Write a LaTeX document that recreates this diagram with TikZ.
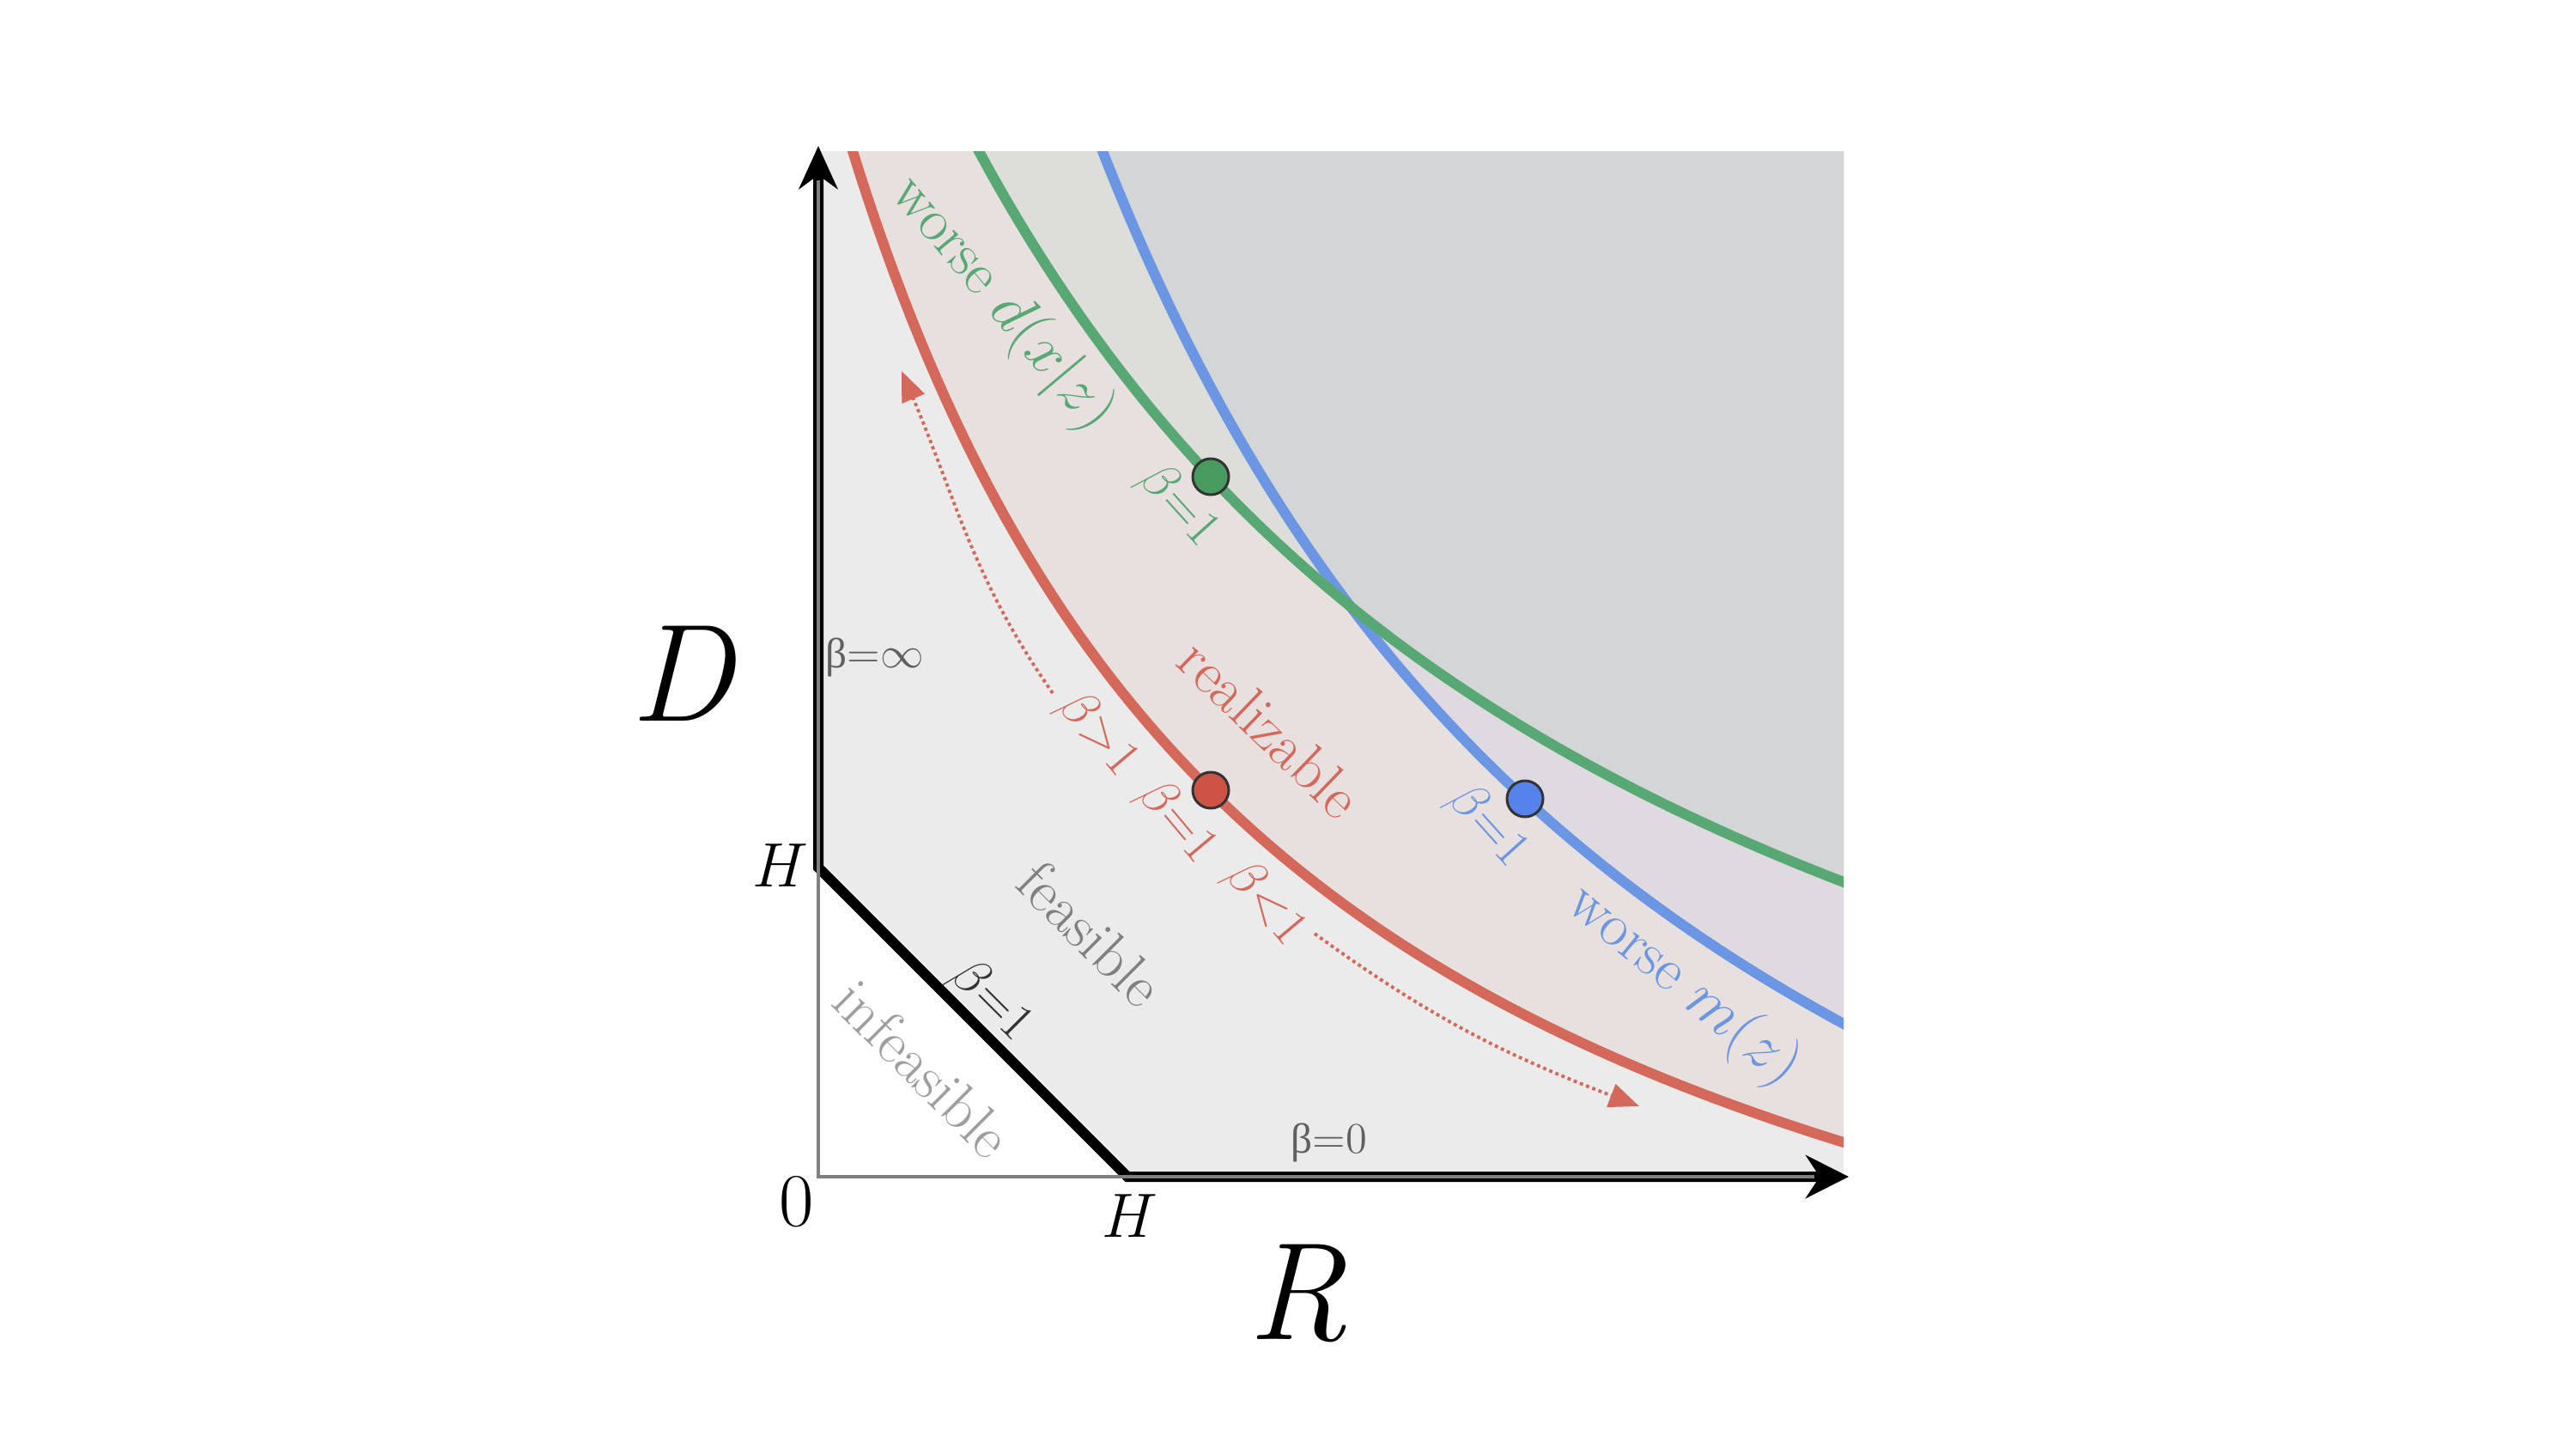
\documentclass[tikz,border=0pt]{standalone}
\usepackage{fontspec}
\newfontfamily\betafont{Liberation Serif}
\usetikzlibrary{arrows.meta}
\definecolor{feas}{HTML}{EBEBEB}
\definecolor{realz}{HTML}{E8DFDF}
\definecolor{grnreg}{HTML}{DDDED9}
\definecolor{blureg}{HTML}{DEDAE0}
\definecolor{bothreg}{HTML}{D3D5D7}
\definecolor{redc}{HTML}{D4695B}
\definecolor{grnc}{HTML}{58A874}
\definecolor{bluc}{HTML}{6B96E3}
\definecolor{reddot}{HTML}{CD5444}
\definecolor{grndot}{HTML}{489B5F}
\definecolor{bludot}{HTML}{5582EB}
\definecolor{labgray}{HTML}{606060}
\tikzset{
  curve/.style={line width=0.12cm},
  lab/.style={font=\fontsize{20}{24}\selectfont, inner sep=0pt},
  blab/.style={font=\fontsize{16}{19}\selectfont, inner sep=0pt},
  slab/.style={font=\fontsize{14}{17}\selectfont, inner sep=0pt, text=labgray},
  biglab/.style={font=\fontsize{46}{54}\selectfont\itshape, inner sep=0pt},
  axlab/.style={font=\fontsize{22}{26}\selectfont, inner sep=0pt},
  dotarrow/.style={redc, line width=1.1pt, dash pattern=on 1.1pt off 1.1pt, -{Triangle[length=0.35cm,width=0.28cm]}},
  ptdot/.style={circle, draw=black!80, line width=0.03cm, minimum size=0.42cm, inner sep=0pt},
}
\begin{document}
\begin{tikzpicture}
\useasboundingbox (-9.53,-3.23) rectangle (20.47,13.70);
% feasible region
\fill[feas] (0,3.6) -- (0,11.94) -- (11.94,11.94) -- (11.94,0) -- (3.6,0) -- cycle;
\begin{scope}
  \clip (0,0) rectangle (11.94,11.94);
  \fill[realz] plot[domain=0.3:12, samples=120] (\x,{87.05/(\x+4.8)-4.8}) -- (12,12) -- cycle;
  \fill[grnreg] plot[domain=1.8:12, samples=120] (\x,{132.24/(\x+6.58)-3.71}) -- (12,12) -- cycle;
  \fill[blureg] plot[domain=3.2:12, samples=120] (\x,{138.96/(\x+4.065)-6.902}) -- (12,12) -- cycle;
  \begin{scope}
    \clip plot[domain=1.8:12, samples=120] (\x,{132.24/(\x+6.58)-3.71}) -- (12,12) -- cycle;
    \fill[bothreg] plot[domain=3.2:12, samples=120] (\x,{138.96/(\x+4.065)-6.902}) -- (12,12) -- cycle;
  \end{scope}
  \draw[curve, redc] plot[domain=0.3:12, samples=120] (\x,{87.05/(\x+4.8)-4.8});
  \draw[curve, bluc] plot[domain=3.2:12, samples=120] (\x,{138.96/(\x+4.065)-6.902});
  \draw[curve, grnc] plot[domain=1.8:12, samples=120] (\x,{132.24/(\x+6.58)-3.71});
\end{scope}
% axes
\draw[line width=0.12cm, {Stealth[length=0.5cm,width=0.45cm]}-{Stealth[length=0.5cm,width=0.5cm]}]
  (0,12.0) -- (0,3.6) -- (3.6,0) -- (12.0,0);
\draw[gray, line width=0.04cm] (0,11.6) -- (0,0) -- (11.6,0);
% dotted arrows
\coordinate (ua) at (2.73,5.63);
\coordinate (ub) at (0.97,9.38);
\coordinate (la) at (5.78,2.83);
\coordinate (lb) at (9.56,0.82);
\draw[dotarrow] (ua) to[out=125, in=-67] (ub);
\draw[dotarrow] (la) to[out=-36, in=159] (lb);
% dots
\node[ptdot, fill=reddot] (rdot) at (4.57,4.50) {};
\node[ptdot, fill=grndot] (gdot) at (4.57,8.15) {};
\node[ptdot, fill=bludot] (bdot) at (8.23,4.40) {};
% labels
\node[lab, text=grnc, rotate=-50] (worsed) at (2.14,10.16) {worse $d(x|z)$};
\node[lab, text=redc, rotate=-44] (realiz) at (5.26,5.22) {realizable};
\node[lab, text=bluc, rotate=-39.5] (worsem) at (10.08,2.22) {worse $m(z)$};
\node[lab, text=black!50, rotate=-45] (feasl) at (3.17,2.83) {feasible};
\node[lab, text=black!38, rotate=-45] (infeasl) at (1.22,1.26) {infeasible};
\node[blab, text=black!80, rotate=-45] (bdiag) at (2.01,2.05) {$\beta{=}1$};
\node[blab, text=grnc, rotate=-48] (bgreen) at (4.19,7.81) {$\beta{=}1$};
\node[blab, text=redc, rotate=-50] (bred) at (4.17,4.13) {$\beta{=}1$};
\node[blab, text=redc, rotate=-50] (bredgt) at (3.25,5.15) {$\beta{>}1$};
\node[blab, text=redc, rotate=-50] (bredlt) at (5.20,3.18) {$\beta{<}1$};
\node[blab, text=bluc, rotate=-48] (bblue) at (7.79,4.08) {$\beta{=}1$};
\node[slab] (binf) at (0.66,6.05) {{\betafont β}${=}\infty$};
\node[slab] (bzero) at (5.95,0.40) {{\betafont β}${=}0$};
\node[biglab] (Dl) at (-1.59,5.86) {D};
\node[biglab] (Rl) at (5.58,-1.36) {R};
\node[axlab] (Hy) at (-0.44,3.62) {$H$};
\node[axlab] (Hx) at (3.63,-0.46) {$H$};
\node[axlab, font=\fontsize{25}{30}\selectfont] (zero) at (-0.25,-0.29) {0};
\end{tikzpicture}
\end{document}
